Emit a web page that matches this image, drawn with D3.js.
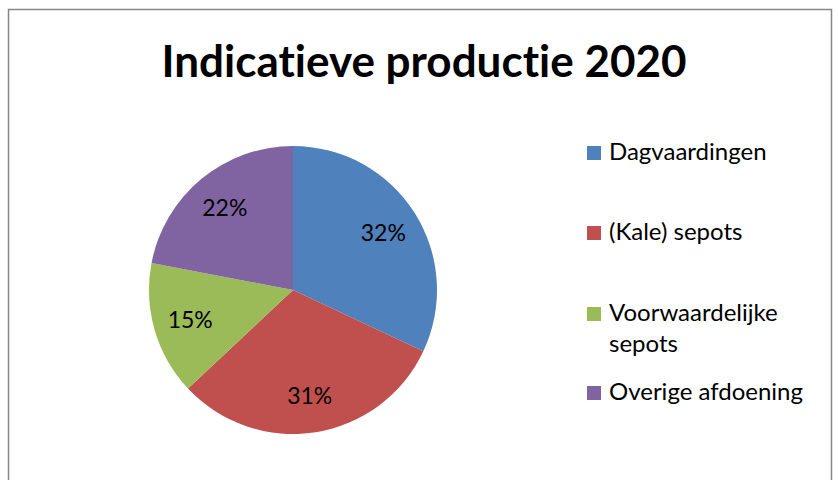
<!DOCTYPE html>
<html lang="nl">
<head>
<meta charset="utf-8"/>
<title>Indicatieve productie 2020</title>
<script src="https://d3js.org/d3.v7.min.js"></script>
<style>
  body { margin: 0; background: #fff; }
  text { font-family: Lato, "Open Sans", sans-serif; font-variant-ligatures: none; }
</style>
</head>
<body>
<div id="chart"></div>
<script>
// data
var categories = ["Dagvaardingen", "(Kale) sepots", "Voorwaardelijke sepots", "Overige afdoening"];
var shares = [32, 31, 15, 22];
var colours = ["#4F81BD", "#C0504D", "#9BBB59", "#8064A2"];

var w = 839, h = 480;
var cx = 293, cy = 290, radius = 144;

var svg = d3.select("#chart").append("svg")
    .attr("width", w)
    .attr("height", h);

// chart frame
svg.append("rect")
    .attr("x", 8.5).attr("y", 9.5)
    .attr("width", 823).attr("height", 500)
    .attr("fill", "#fff")
    .attr("stroke", "#868686")
    .attr("stroke-width", 1.5);

// title
svg.append("text")
    .attr("x", 424).attr("y", 77)
    .attr("text-anchor", "middle")
    .attr("font-size", 44)
    .attr("font-weight", "bold")
    .text("Indicatieve productie 2020");

var colour = d3.scaleOrdinal().domain(categories).range(colours);

var pie = d3.pie().sort(null).value(function(d, i) { return shares[i]; });
var arc = d3.arc().innerRadius(0).outerRadius(radius);
var labelArc = d3.arc().innerRadius(107).outerRadius(107);

var arcs = svg.selectAll("g.arc")
    .data(pie(categories))
    .enter()
    .append("g")
    .attr("class", "arc")
    .attr("transform", "translate(" + cx + "," + cy + ")");

arcs.append("path")
    .attr("fill", function(d) { return colour(d.data); })
    .attr("d", arc);

arcs.append("text")
    .attr("transform", function(d) { return "translate(" + labelArc.centroid(d) + ")"; })
    .attr("text-anchor", "middle")
    .attr("dy", "0.35em")
    .attr("font-size", 23)
    .text(function(d) { return shares[d.index] + "%"; });

// legend
var legendRows = [
  { name: "Dagvaardingen", lines: ["Dagvaardingen"], y: 160 },
  { name: "(Kale) sepots", lines: ["(Kale) sepots"], y: 240 },
  { name: "Voorwaardelijke sepots", lines: ["Voorwaardelijke", "sepots"], y: 321 },
  { name: "Overige afdoening", lines: ["Overige afdoening"], y: 400 }
];

var legend = svg.selectAll("g.legend")
    .data(legendRows)
    .enter()
    .append("g")
    .attr("class", "legend")
    .attr("transform", function(d) { return "translate(587," + d.y + ")"; });

legend.append("rect")
    .attr("x", 0).attr("y", -14)
    .attr("width", 14).attr("height", 14)
    .attr("fill", function(d) { return colour(d.name); });

legend.append("text")
    .attr("x", 22)
    .attr("font-size", 24)
    .selectAll("tspan")
    .data(function(d) { return d.lines; })
    .enter()
    .append("tspan")
    .attr("x", 22)
    .attr("dy", function(d, i) { return i === 0 ? 0 : 31; })
    .text(function(d) { return d; });
</script>
</body>
</html>
